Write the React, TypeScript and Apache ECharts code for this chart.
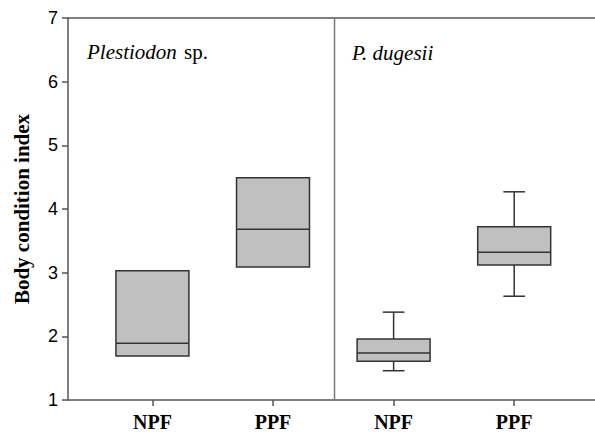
import React, { useEffect, useRef } from "react";
import * as echarts from "echarts";

// Positions of the four groups on the x axis (1..4) and their labels
const categories = ["NPF", "PPF", "NPF", "PPF"];
const groupX = [1, 2, 3, 4];
// [min, Q1, median, Q3, max]
const boxStats = [
  [1.69, 1.69, 1.89, 3.03, 3.03],
  [3.09, 3.09, 3.68, 4.49, 4.49],
  [1.46, 1.61, 1.74, 1.96, 2.38],
  [2.63, 3.12, 3.32, 3.72, 4.27],
];
const panelTitles = ["Plestiodon", "sp.", "P. dugesii"];
const dividerX = 2.51;
const yTicks = [1, 2, 3, 4, 5, 6, 7];

export default function App() {
  const ref = useRef<HTMLDivElement>(null);
  useEffect(() => {
    if (!ref.current) return;
    const chart = echarts.init(ref.current, null, { renderer: "svg" });
    const axisColor = "#555";
    const data = boxStats.map((s, i) => [groupX[i], ...s]);
    const serif = "Liberation Serif";
    const titleFont = "Times New Roman";
    chart.setOption({
      animation: false,
      backgroundColor: "#fff",
      grid: { left: 68, right: 0, top: 18, bottom: 38 },
      xAxis: [
        {
          type: "value",
          min: 0.3,
          max: 4.67,
          splitLine: { show: false },
          axisLine: { show: true, lineStyle: { color: axisColor, width: 1.5 } },
          axisTick: {
            show: true,
            customValues: groupX,
            inside: false,
            length: 6,
            lineStyle: { color: axisColor, width: 1.5 },
          },
          axisLabel: {
            customValues: groupX,
            formatter: (v: number) => categories[groupX.indexOf(Math.round(v))] ?? "",
            fontFamily: serif,
            fontWeight: "bold",
            fontSize: 20,
            color: "#000",
            margin: 12,
          },
        },
        {
          type: "value",
          position: "top",
          min: 0.3,
          max: 4.67,
          splitLine: { show: false },
          axisLine: { show: true, onZero: false, lineStyle: { color: axisColor, width: 1.5 } },
          axisTick: { show: false },
          axisLabel: { show: false },
        },
      ],
      yAxis: {
        type: "value",
        min: yTicks[0],
        max: yTicks[yTicks.length - 1],
        interval: 1,
        splitLine: { show: false },
        axisLine: { show: true, lineStyle: { color: axisColor, width: 1.5 } },
        axisTick: { show: true, length: 6, lineStyle: { color: axisColor, width: 1.5 } },
        axisLabel: {
          fontFamily: "Liberation Sans",
          fontSize: 18,
          color: "#000",
          margin: 10,
        },
        name: "Body condition index",
        nameLocation: "middle",
        nameGap: 36,
        nameTextStyle: {
          fontFamily: serif,
          fontWeight: "bold",
          fontSize: 21,
          color: "#000",
        },
      },
      series: [
        {
          type: "custom",
          data,
          encode: { x: 0, y: [1, 2, 3, 4, 5] },
          renderItem: (params: any, api: any) => {
            const x = api.value(0);
            const mn = api.value(1);
            const q1 = api.value(2);
            const md = api.value(3);
            const q3 = api.value(4);
            const mx = api.value(5);
            const bw = api.size([0.605, 0])[0];
            const cw = api.size([0.18, 0])[0];
            const pMin = api.coord([x, mn]);
            const pQ1 = api.coord([x, q1]);
            const pMd = api.coord([x, md]);
            const pQ3 = api.coord([x, q3]);
            const pMax = api.coord([x, mx]);
            const cx = pMd[0];
            const lineStyle = { stroke: "#333", lineWidth: 1.5, fill: null };
            const children: any[] = [
              {
                type: "rect",
                shape: { x: cx - bw / 2, y: pQ3[1], width: bw, height: pQ1[1] - pQ3[1] },
                style: { fill: "#c0c0c0", stroke: "#333", lineWidth: 1.5 },
              },
              {
                type: "line",
                shape: { x1: cx - bw / 2, y1: pMd[1], x2: cx + bw / 2, y2: pMd[1] },
                style: lineStyle,
              },
            ];
            if (mx > q3) {
              children.push(
                { type: "line", shape: { x1: cx, y1: pQ3[1], x2: cx, y2: pMax[1] }, style: lineStyle },
                { type: "line", shape: { x1: cx - cw / 2, y1: pMax[1], x2: cx + cw / 2, y2: pMax[1] }, style: lineStyle }
              );
            }
            if (mn < q1) {
              children.push(
                { type: "line", shape: { x1: cx, y1: pQ1[1], x2: cx, y2: pMin[1] }, style: lineStyle },
                { type: "line", shape: { x1: cx - cw / 2, y1: pMin[1], x2: cx + cw / 2, y2: pMin[1] }, style: lineStyle }
              );
            }
            return { type: "group", children };
          },
        },
        {
          type: "line",
          data: [
            [dividerX, yTicks[0]],
            [dividerX, yTicks[yTicks.length - 1]],
          ],
          symbol: "none",
          lineStyle: { color: "#777", width: 1.5 },
          silent: true,
        },
      ],
      graphic: [
        {
          type: "text",
          x: 87,
          y: 41,
          style: {
            text: panelTitles[0],
            fontFamily: titleFont,
            fontStyle: "italic",
            fontSize: 21,
            fill: "#000",
          },
        },
        {
          type: "text",
          x: 184,
          y: 41,
          style: {
            text: panelTitles[1],
            fontFamily: titleFont,
            fontSize: 21,
            fill: "#000",
          },
        },
        {
          type: "text",
          x: 352,
          y: 42,
          style: {
            text: panelTitles[2],
            fontFamily: titleFont,
            fontStyle: "italic",
            fontSize: 21,
            fill: "#000",
          },
        },
      ],
    });
    return () => chart.dispose();
  }, []);
  return (
    <div
      ref={ref}
      style={{ position: "fixed", left: 0, top: 0, width: 595, height: 438 }}
    />
  );
}
